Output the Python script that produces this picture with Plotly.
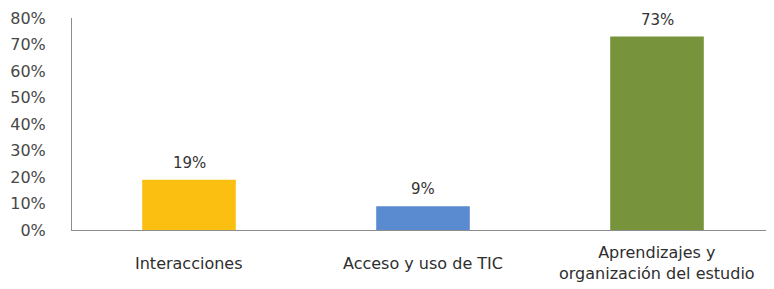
import plotly.graph_objects as go

categories = ["Interacciones", "Acceso y uso de TIC", "Aprendizajes y<br>organización del estudio"]
values = [0.19, 0.09, 0.73]
labels = ["19%", "9%", "73%"]
colors = ["#FBBF12", "#5A8AD0", "#77933C"]
tick_vals = [0, 0.1, 0.2, 0.3, 0.4, 0.5, 0.6, 0.7, 0.8]
tick_text = ["0%", "10%", "20%", "30%", "40%", "50%", "60%", "70%", "80%"]

FONT = "DejaVu Sans"

fig = go.Figure()
fig.add_trace(go.Bar(x=categories, y=values, marker=dict(color=colors, line=dict(width=0)),
                     hoverinfo="skip"))

for c, v, t in zip(categories, values, labels):
    fig.add_annotation(x=c, y=v, text=t, showarrow=False, yshift=17, yanchor="middle",
                       font=dict(family=FONT, size=15, color="#333333"))

for c in categories:
    fig.add_annotation(x=c, y=0, yref="paper", text=c, showarrow=False, yshift=-33,
                       yanchor="middle", align="center",
                       font=dict(family=FONT, size=16, color="#2e2e2e"))

# page body has an 8px margin, so the figure is shrunk and offset to compensate
fig.update_layout(
    width=766, height=281,
    margin=dict(l=64, r=0, t=10, b=59),
    paper_bgcolor="white", plot_bgcolor="white",
    bargap=0.6, showlegend=False,
    font=dict(family=FONT, size=15, color="#404040"),
)
fig.update_yaxes(range=[0, 0.8], tickvals=tick_vals, ticktext=tick_text, automargin=False,
                 showgrid=False, zeroline=False, showline=True, linecolor="#8c8c8c",
                 linewidth=1, ticks="", ticklabelstandoff=22,
                 tickfont=dict(family=FONT, size=16, color="#474747"))
fig.update_xaxes(showgrid=False, showline=True, linecolor="#8c8c8c", linewidth=1,
                 ticks="", showticklabels=False, automargin=False)

fig.write_html("out.html")
